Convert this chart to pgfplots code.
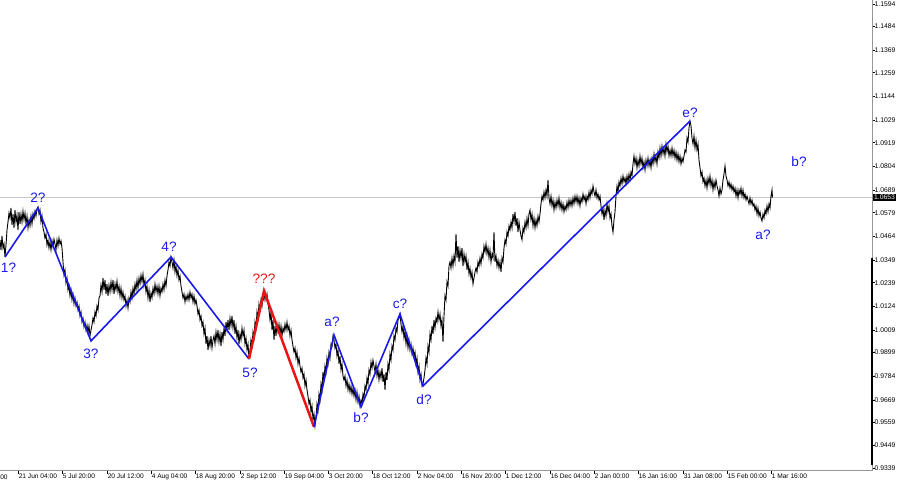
\documentclass[border=0pt]{standalone}
\usepackage{fontspec}
\setmainfont{Liberation Sans}
\usepackage{pgfplots}
\pgfplotsset{compat=1.18}
\definecolor{wblue}{RGB}{25,25,235}
\definecolor{wred}{RGB}{235,20,20}
\definecolor{axgray}{RGB}{150,150,150}
\definecolor{pline}{RGB}{200,200,200}
\begin{document}
\begin{tikzpicture}
\begin{axis}[
  scale only axis, width=436pt, height=235.5pt,
  xmin=0, xmax=872, ymin=0.93239, ymax=1.1613,
  axis x line*=bottom, axis y line*=right,
  axis line style={axgray, line width=0.5pt, -},
  clip=false,
  /pgf/number format/assume math mode=true,
  xtick={18,62,107,151,195,240,284,328,372,417,461,505,550,594,638,683,727,771},
  xticklabels={21 Jun 04:00,5 Jul 20:00,20 Jul 12:00,4 Aug 04:00,18 Aug 20:00,2 Sep 12:00,19 Sep 04:00,3 Oct 20:00,18 Oct 12:00,2 Nov 04:00,16 Nov 20:00,1 Dec 12:00,16 Dec 04:00,2 Jan 00:00,16 Jan 16:00,31 Jan 08:00,15 Feb 00:00,1 Mar 16:00},
  ytick={0.9339,0.9449,0.9559,0.9669,0.9784,0.9899,1.0009,1.0124,1.0239,1.0349,1.0464,1.0579,1.0689,1.0804,1.0919,1.1029,1.1144,1.1259,1.1369,1.1484,1.1594},
  yticklabels={0.9339,0.9449,0.9559,0.9669,0.9784,0.9899,1.0009,1.0124,1.0239,1.0349,1.0464,1.0579,1.0689,1.0804,1.0919,1.1029,1.1144,1.1259,1.1369,1.1484,1.1594},
  tick align=outside, major tick length=1.5pt,
  tick style={black, line width=0.35pt},
  x tick label style={font=\fontsize{3.3}{4}\selectfont, anchor=north west, inner sep=0pt, xshift=0.2pt, yshift=0.3pt},
  y tick label style={font=\fontsize{3.4}{4}\selectfont, anchor=west, inner sep=0pt, xshift=-0.4pt},
]
\coordinate (tl) at (rel axis cs:0,1);
% current price line
\addplot[pline, line width=0.5pt] coordinates {(0,1.0653) (872,1.0653)};
% price series
\addplot[black, line width=0.45pt] coordinates {
(0,1.0447) (1,1.0398) (2,1.0466) (3,1.0408) (4,1.0427) (5,1.0364) (6,1.0422) (7,1.0495) (8,1.0534) (9,1.0578)
(10,1.0553) (11,1.0602) (12,1.0519) (13,1.0573) (14,1.0505) (15,1.0592) (16,1.0534) (17,1.0568) (18,1.0495) (19,1.0583)
(20,1.0524) (21,1.0573) (22,1.0534) (23,1.0587) (24,1.0544) (25,1.0578) (26,1.0524) (27,1.0563) (28,1.0505) (29,1.0544)
(30,1.0515) (31,1.0563) (32,1.0524) (33,1.0573) (34,1.0549) (35,1.0587) (36,1.0563) (37,1.0597) (38,1.0607) (39,1.0573)
(40,1.0592) (41,1.0534) (42,1.0563) (43,1.0505) (44,1.0485) (45,1.0456) (46,1.0476) (47,1.0422) (48,1.0447) (49,1.0408)
(50,1.0437) (51,1.0398) (52,1.0442) (53,1.0413) (54,1.0451) (55,1.0427) (56,1.0398) (57,1.0447) (58,1.0417) (59,1.0456)
(60,1.0427) (61,1.0442) (62,1.0408) (63,1.0340) (64,1.0276) (65,1.0301) (66,1.0238) (67,1.0262) (68,1.0204) (69,1.0223)
(70,1.0175) (71,1.0204) (72,1.0155) (73,1.0184) (74,1.0136) (75,1.0165) (76,1.0126) (77,1.0145) (78,1.0106) (79,1.0126)
(80,1.0077) (81,1.0097) (82,1.0048) (83,1.0067) (84,1.0024) (85,1.0048) (86,1.0009) (87,1.0033) (88,0.9995) (89,1.0029)
(90,0.9980) (91,1.0009) (92,1.0033) (93,1.0067) (94,1.0048) (95,1.0097) (96,1.0077) (97,1.0126) (98,1.0106) (99,1.0165)
(100,1.0175) (101,1.0228) (102,1.0194) (103,1.0262) (104,1.0204) (105,1.0252) (106,1.0184) (107,1.0233) (108,1.0175) (109,1.0228)
(110,1.0194) (111,1.0243) (112,1.0204) (113,1.0252) (114,1.0184) (115,1.0233) (116,1.0204) (117,1.0247) (118,1.0194) (119,1.0223)
(120,1.0175) (121,1.0213) (122,1.0165) (123,1.0194) (124,1.0155) (125,1.0175) (126,1.0126) (127,1.0155) (128,1.0116) (129,1.0165)
(130,1.0145) (131,1.0194) (132,1.0165) (133,1.0213) (134,1.0184) (135,1.0233) (136,1.0204) (137,1.0252) (138,1.0213) (139,1.0262)
(140,1.0233) (141,1.0276) (142,1.0243) (143,1.0281) (144,1.0223) (145,1.0252) (146,1.0194) (147,1.0223) (148,1.0165) (149,1.0204)
(150,1.0145) (151,1.0189) (152,1.0165) (153,1.0213) (154,1.0184) (155,1.0233) (156,1.0194) (157,1.0223) (158,1.0184) (159,1.0223)
(160,1.0175) (161,1.0213) (162,1.0194) (163,1.0233) (164,1.0204) (165,1.0252) (166,1.0223) (167,1.0272) (168,1.0301) (169,1.0340)
(170,1.0320) (171,1.0364) (172,1.0340) (173,1.0310) (174,1.0349) (175,1.0291) (176,1.0320) (177,1.0272) (178,1.0301) (179,1.0252)
(180,1.0272) (181,1.0223) (182,1.0194) (183,1.0165) (184,1.0184) (185,1.0145) (186,1.0175) (187,1.0155) (188,1.0184) (189,1.0155)
(190,1.0194) (191,1.0165) (192,1.0184) (193,1.0145) (194,1.0175) (195,1.0136) (196,1.0155) (197,1.0126) (198,1.0087) (199,1.0106)
(200,1.0058) (201,1.0077) (202,1.0029) (203,1.0048) (204,0.9990) (205,1.0019) (206,0.9941) (207,0.9980) (208,0.9912) (209,0.9961)
(210,0.9931) (211,0.9980) (212,0.9922) (213,0.9961) (214,0.9980) (215,0.9941) (216,1.0000) (217,0.9961) (218,1.0009) (219,0.9951)
(220,0.9990) (221,0.9931) (222,1.0000) (223,0.9961) (224,1.0019) (225,0.9980) (226,1.0048) (227,1.0009) (228,1.0058) (229,1.0009)
(230,1.0067) (231,1.0029) (232,1.0077) (233,1.0019) (234,1.0058) (235,0.9990) (236,1.0029) (237,0.9970) (238,1.0009) (239,0.9941)
(240,0.9990) (241,0.9961) (242,1.0019) (243,0.9980) (244,1.0009) (245,0.9941) (246,0.9970) (247,0.9912) (248,0.9941) (249,0.9873)
(250,0.9912) (251,0.9961) (252,0.9931) (253,1.0000) (254,0.9970) (255,1.0048) (256,1.0019) (257,1.0097) (258,1.0067) (259,1.0136)
(260,1.0106) (261,1.0155) (262,1.0126) (263,1.0175) (264,1.0155) (265,1.0194) (266,1.0155) (267,1.0184) (268,1.0136) (269,1.0106)
(270,1.0058) (271,1.0097) (272,1.0009) (273,1.0058) (274,0.9961) (275,1.0029) (276,0.9980) (277,1.0038) (278,1.0000) (279,1.0038)
(280,0.9990) (281,1.0029) (282,0.9980) (283,1.0019) (284,1.0000) (285,1.0038) (286,1.0009) (287,1.0048) (288,1.0009) (289,1.0029)
(290,0.9980) (291,1.0009) (292,0.9961) (293,0.9931) (294,0.9902) (295,0.9922) (296,0.9873) (297,0.9902) (298,0.9844) (299,0.9873)
(300,0.9834) (301,0.9805) (302,0.9824) (303,0.9776) (304,0.9795) (305,0.9737) (306,0.9766) (307,0.9718) (308,0.9688) (309,0.9650)
(310,0.9669) (311,0.9611) (312,0.9640) (313,0.9572) (314,0.9601) (315,0.9543) (316,0.9582) (317,0.9650) (318,0.9620) (319,0.9698)
(320,0.9669) (321,0.9747) (322,0.9718) (323,0.9805) (324,0.9766) (325,0.9834) (326,0.9805) (327,0.9873) (328,0.9844) (329,0.9902)
(330,0.9873) (331,0.9941) (332,0.9931) (333,0.9980) (334,0.9961) (335,0.9922) (336,0.9941) (337,0.9883) (338,0.9912) (339,0.9844)
(340,0.9883) (341,0.9815) (342,0.9844) (343,0.9786) (344,0.9766) (345,0.9786) (346,0.9737) (347,0.9766) (348,0.9718) (349,0.9747)
(350,0.9708) (351,0.9737) (352,0.9698) (353,0.9727) (354,0.9688) (355,0.9718) (356,0.9669) (357,0.9708) (358,0.9659) (359,0.9688)
(360,0.9640) (361,0.9669) (362,0.9650) (363,0.9698) (364,0.9679) (365,0.9737) (366,0.9718) (367,0.9776) (368,0.9747) (369,0.9815)
(370,0.9795) (371,0.9854) (372,0.9824) (373,0.9863) (374,0.9834) (375,0.9805) (376,0.9844) (377,0.9786) (378,0.9815) (379,0.9766)
(380,0.9805) (381,0.9776) (382,0.9824) (383,0.9756) (384,0.9795) (385,0.9718) (386,0.9805) (387,0.9766) (388,0.9844) (389,0.9815)
(390,0.9893) (391,0.9863) (392,0.9931) (393,0.9912) (394,0.9980) (395,0.9961) (396,1.0019) (397,1.0000) (398,1.0058) (399,1.0067)
(400,1.0087) (401,1.0038) (402,1.0000) (403,1.0029) (404,0.9970) (405,1.0000) (406,0.9941) (407,0.9980) (408,0.9922) (409,0.9961)
(410,0.9912) (411,0.9941) (412,0.9893) (413,0.9922) (414,0.9883) (415,0.9902) (416,0.9844) (417,0.9873) (418,0.9805) (419,0.9834)
(420,0.9766) (421,0.9795) (422,0.9737) (423,0.9747) (424,0.9776) (425,0.9815) (426,0.9873) (427,0.9844) (428,0.9931) (429,0.9902)
(430,0.9990) (431,0.9961) (432,1.0029) (433,0.9990) (434,1.0058) (435,1.0019) (436,1.0067) (437,1.0048) (438,1.0097) (439,1.0058)
(440,1.0087) (441,1.0029) (442,1.0058) (443,0.9951) (444,1.0077) (445,1.0175) (446,1.0155) (447,1.0243) (448,1.0223) (449,1.0320)
(450,1.0340) (451,1.0310) (452,1.0359) (453,1.0320) (454,1.0369) (455,1.0340) (456,1.0476) (457,1.0359) (458,1.0417) (459,1.0340)
(460,1.0398) (461,1.0359) (462,1.0408) (463,1.0320) (464,1.0379) (465,1.0340) (466,1.0369) (467,1.0301) (468,1.0340) (469,1.0281)
(470,1.0310) (471,1.0262) (472,1.0291) (473,1.0233) (474,1.0262) (475,1.0291) (476,1.0310) (477,1.0291) (478,1.0340) (479,1.0320)
(480,1.0359) (481,1.0330) (482,1.0379) (483,1.0359) (484,1.0417) (485,1.0388) (486,1.0427) (487,1.0379) (488,1.0408) (489,1.0359)
(490,1.0398) (491,1.0340) (492,1.0379) (493,1.0359) (494,1.0485) (495,1.0340) (496,1.0369) (497,1.0320) (498,1.0349) (499,1.0310)
(500,1.0340) (501,1.0291) (502,1.0359) (503,1.0340) (504,1.0408) (505,1.0447) (506,1.0427) (507,1.0485) (508,1.0466) (509,1.0515)
(510,1.0495) (511,1.0534) (512,1.0505) (513,1.0573) (514,1.0534) (515,1.0583) (516,1.0515) (517,1.0553) (518,1.0485) (519,1.0534)
(520,1.0495) (521,1.0466) (522,1.0447) (523,1.0505) (524,1.0485) (525,1.0534) (526,1.0505) (527,1.0553) (528,1.0515) (529,1.0573)
(530,1.0592) (531,1.0544) (532,1.0573) (533,1.0515) (534,1.0553) (535,1.0505) (536,1.0544) (537,1.0515) (538,1.0563) (539,1.0534)
(540,1.0573) (541,1.0622) (542,1.0660) (543,1.0641) (544,1.0680) (545,1.0651) (546,1.0690) (547,1.0660) (548,1.0738) (549,1.0651)
(550,1.0622) (551,1.0660) (552,1.0612) (553,1.0641) (554,1.0592) (555,1.0631) (556,1.0602) (557,1.0641) (558,1.0612) (559,1.0651)
(560,1.0602) (561,1.0631) (562,1.0592) (563,1.0622) (564,1.0583) (565,1.0612) (566,1.0592) (567,1.0631) (568,1.0602) (569,1.0641)
(570,1.0612) (571,1.0641) (572,1.0612) (573,1.0651) (574,1.0622) (575,1.0660) (576,1.0631) (577,1.0660) (578,1.0622) (579,1.0651)
(580,1.0612) (581,1.0651) (582,1.0631) (583,1.0670) (584,1.0641) (585,1.0660) (586,1.0622) (587,1.0660) (588,1.0641) (589,1.0680)
(590,1.0651) (591,1.0690) (592,1.0670) (593,1.0709) (594,1.0680) (595,1.0660) (596,1.0690) (597,1.0651) (598,1.0670) (599,1.0641)
(600,1.0660) (601,1.0612) (602,1.0573) (603,1.0602) (604,1.0544) (605,1.0592) (606,1.0563) (607,1.0622) (608,1.0583) (609,1.0612)
(610,1.0553) (611,1.0573) (612,1.0515) (613,1.0485) (614,1.0544) (615,1.0583) (616,1.0660) (617,1.0709) (618,1.0680) (619,1.0729)
(620,1.0709) (621,1.0748) (622,1.0719) (623,1.0758) (624,1.0729) (625,1.0748) (626,1.0719) (627,1.0758) (628,1.0729) (629,1.0767)
(630,1.0738) (631,1.0777) (632,1.0758) (633,1.0816) (634,1.0855) (635,1.0816) (636,1.0845) (637,1.0797) (638,1.0835) (639,1.0806)
(640,1.0855) (641,1.0816) (642,1.0845) (643,1.0797) (644,1.0826) (645,1.0787) (646,1.0835) (647,1.0806) (648,1.0845) (649,1.0806)
(650,1.0835) (651,1.0797) (652,1.0845) (653,1.0816) (654,1.0865) (655,1.0826) (656,1.0855) (657,1.0816) (658,1.0874) (659,1.0845)
(660,1.0894) (661,1.0855) (662,1.0903) (663,1.0865) (664,1.0894) (665,1.0855) (666,1.0913) (667,1.0874) (668,1.0903) (669,1.0855)
(670,1.0884) (671,1.0855) (672,1.0894) (673,1.0855) (674,1.0884) (675,1.0845) (676,1.0874) (677,1.0835) (678,1.0865) (679,1.0826)
(680,1.0855) (681,1.0816) (682,1.0845) (683,1.0826) (684,1.0855) (685,1.0884) (686,1.0874) (687,1.0942) (688,1.0923) (689,1.0991)
(690,1.1025) (691,1.1001) (692,1.0942) (693,1.0913) (694,1.0952) (695,1.0894) (696,1.0933) (697,1.0884) (698,1.0913) (699,1.0835)
(700,1.0797) (701,1.0758) (702,1.0777) (703,1.0729) (704,1.0748) (705,1.0709) (706,1.0738) (707,1.0699) (708,1.0748) (709,1.0719)
(710,1.0758) (711,1.0709) (712,1.0738) (713,1.0690) (714,1.0729) (715,1.0699) (716,1.0738) (717,1.0709) (718,1.0690) (719,1.0660)
(720,1.0699) (721,1.0670) (722,1.0690) (723,1.0738) (724,1.0767) (725,1.0806) (726,1.0758) (727,1.0738) (728,1.0709) (729,1.0729)
(730,1.0699) (731,1.0719) (732,1.0690) (733,1.0709) (734,1.0680) (735,1.0699) (736,1.0660) (737,1.0690) (738,1.0651) (739,1.0690)
(740,1.0670) (741,1.0699) (742,1.0660) (743,1.0690) (744,1.0651) (745,1.0670) (746,1.0641) (747,1.0660) (748,1.0641) (749,1.0622)
(750,1.0651) (751,1.0622) (752,1.0641) (753,1.0612) (754,1.0622) (755,1.0592) (756,1.0612) (757,1.0573) (758,1.0602) (759,1.0563)
(760,1.0583) (761,1.0553) (762,1.0539) (763,1.0573) (764,1.0553) (765,1.0592) (766,1.0573) (767,1.0612) (768,1.0583) (769,1.0622)
(770,1.0602) (771,1.0660) (772,1.0690) (772.5,1.0653)
};
% wave lines
\addplot[wblue, line width=0.8pt] coordinates {(5,1.0364) (38,1.0602) (91,0.9956) (171,1.0364) (249,0.9868)};
\addplot[wred, line width=1.25pt] coordinates {(249,0.9868) (264,1.0199) (314,0.9538)};
\addplot[wblue, line width=0.8pt] coordinates {(314,0.9538) (334,0.9985) (361,0.9635) (400,1.0087) (423,0.9737) (690,1.1025)};
% wave labels
\tikzset{wl/.style={font=\fontsize{6.8}{8}\selectfont, text=wblue, inner sep=0pt}}
\node[wl, anchor=west] at (axis cs:0.6,1.0310) {1?};
\node[wl] at (axis cs:38,1.0651) {2?};
\node[wl] at (axis cs:91,0.9893) {3?};
\node[wl] at (axis cs:169,1.0413) {4?};
\node[wl] at (axis cs:250,0.9800) {5?};
\node[wl, text=wred] at (axis cs:264,1.0257) {???};
\node[wl] at (axis cs:332,1.0048) {a?};
\node[wl] at (axis cs:361,0.9582) {b?};
\node[wl] at (axis cs:400,1.0136) {c?};
\node[wl] at (axis cs:424,0.9669) {d?};
\node[wl] at (axis cs:690,1.1064) {e?};
\node[wl] at (axis cs:763,1.0471) {a?};
\node[wl] at (axis cs:799,1.0826) {b?};
% right edge marker and price box
\draw[black, line width=1pt] (axis cs:872,1.0359) -- (axis cs:872,0.9353);
\node[fill=black, text=white, font=\fontsize{3.4}{4}\selectfont, inner xsep=0.6pt, inner ysep=0.7pt, anchor=west] at (axis cs:872.6,1.0653) {1.0653};
\node[font=\fontsize{3.3}{4}\selectfont, inner sep=0pt, anchor=north east] at ([yshift=-1.8pt]axis cs:8,0.93239) {00};
\end{axis}
\pgfresetboundingbox
\path[use as bounding box] (tl) rectangle ([xshift=450pt,yshift=-242.5pt]tl);
\end{tikzpicture}
\end{document}
